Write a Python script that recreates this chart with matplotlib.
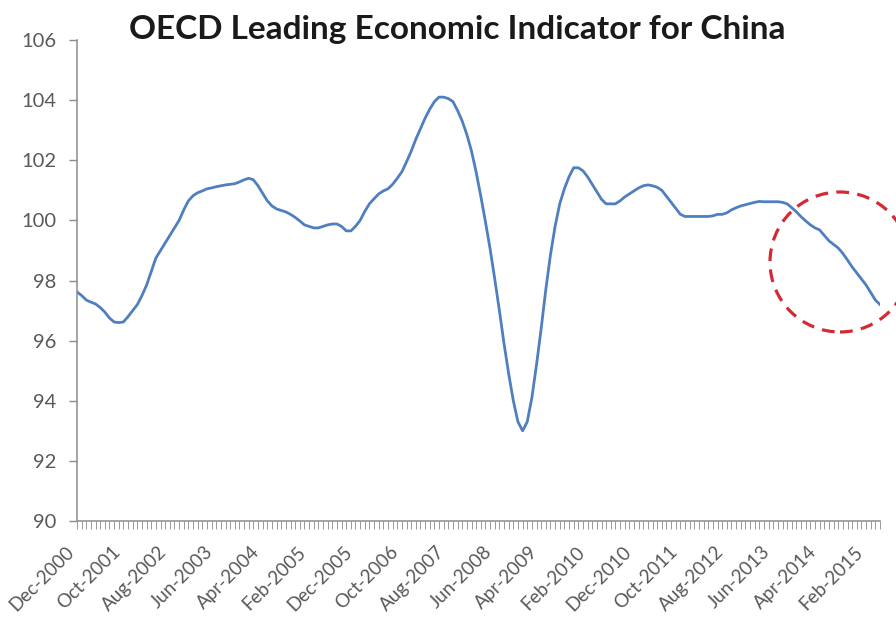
import matplotlib
matplotlib.use("Agg")
import matplotlib.pyplot as plt
from matplotlib.patches import Ellipse
import pandas as pd

# ---- data ----
months = pd.date_range("2000-12-01", periods=174, freq="MS").strftime("%b-%Y").tolist()

cli_values = [
    97.62, 97.50, 97.35, 97.28, 97.22, 97.10, 96.95, 96.75, 96.62, 96.60,
    96.62, 96.80, 97.00, 97.20, 97.50, 97.85, 98.30, 98.75, 99.00, 99.25,
    99.50, 99.75, 100.00, 100.35, 100.65, 100.82, 100.92, 100.98, 101.05, 101.08,
    101.12, 101.15, 101.18, 101.20, 101.22, 101.28, 101.35, 101.40, 101.35, 101.15,
    100.90, 100.65, 100.48, 100.38, 100.33, 100.28, 100.20, 100.10, 99.98, 99.85,
    99.80, 99.75, 99.75, 99.80, 99.85, 99.88, 99.88, 99.80, 99.65, 99.65,
    99.80, 100.00, 100.30, 100.55, 100.72, 100.88, 100.98, 101.05, 101.20, 101.40,
    101.62, 101.95, 102.30, 102.70, 103.05, 103.40, 103.70, 103.95, 104.10, 104.10,
    104.05, 103.95, 103.65, 103.30, 102.85, 102.30, 101.60, 100.80, 99.95, 99.05,
    98.05, 97.00, 95.90, 94.90, 94.00, 93.30, 93.00, 93.30, 94.10, 95.20,
    96.40, 97.70, 98.85, 99.80, 100.55, 101.05, 101.45, 101.75, 101.75, 101.65,
    101.45, 101.20, 100.95, 100.70, 100.55, 100.55, 100.55, 100.65, 100.78, 100.88,
    100.98, 101.08, 101.15, 101.18, 101.15, 101.10, 101.00, 100.80, 100.60, 100.40,
    100.20, 100.13, 100.13, 100.13, 100.13, 100.13, 100.13, 100.15, 100.20, 100.20,
    100.25, 100.35, 100.42, 100.48, 100.52, 100.56, 100.60, 100.63, 100.62, 100.62,
    100.62, 100.62, 100.60, 100.55, 100.42, 100.28, 100.12, 99.98, 99.85, 99.75,
    99.68, 99.50, 99.32, 99.20, 99.08, 98.90, 98.68, 98.45, 98.25, 98.05,
    97.85, 97.60, 97.35, 97.20,
]

tick_labels = ["Dec-2000", "Oct-2001", "Aug-2002", "Jun-2003", "Apr-2004", "Feb-2005",
               "Dec-2005", "Oct-2006", "Aug-2007", "Jun-2008", "Apr-2009", "Feb-2010",
               "Dec-2010", "Oct-2011", "Aug-2012", "Jun-2013", "Apr-2014", "Feb-2015"]
y_ticks = [90, 92, 94, 96, 98, 100, 102, 104, 106]
title = "OECD Leading Economic Indicator for China"

# ---- plot ----
plt.rcParams["font.family"] = ["Lato", "DejaVu Sans"]
fig = plt.figure(figsize=(8.96, 6.19), dpi=100)
ax = fig.add_axes([77/896, 1 - 521/619, (880 - 77)/896, (521 - 40)/619])

x = list(range(len(cli_values)))
ax.plot(x, cli_values, color="#4f7fbf", lw=2.0, solid_joinstyle="round")

ax.set_xlim(0, len(months) - 1)
ax.set_ylim(y_ticks[0], y_ticks[-1])
ax.set_yticks(y_ticks)
ax.set_yticklabels([str(v) for v in y_ticks])

ax.set_xticks(range(len(months)))
lab_pos = {months.index(t): t for t in tick_labels}
ax.set_xticklabels([lab_pos.get(i, "") for i in range(len(months))],
                   rotation=45, ha="right", va="top", rotation_mode="default")

for s in ["top", "right"]:
    ax.spines[s].set_visible(False)
for s in ["left", "bottom"]:
    ax.spines[s].set_color("#8c8c8c")
    ax.spines[s].set_linewidth(1.1)

ax.tick_params(axis="y", direction="out", length=6, width=1, color="#8c8c8c",
               labelsize=14.5, labelcolor="#595959", pad=9)
ax.tick_params(axis="x", direction="out", length=6, width=0.7, color="#9a9a9a",
               labelsize=13.5, labelcolor="#595959", pad=10)

fig.text(457/896, 1 - 29/619, title, ha="center", va="center",
         fontsize=24, fontweight="bold", color="#1a1a1a")

circ = Ellipse((840/896, 1 - 262/619), width=140/896, height=140/619,
               transform=fig.transFigure, fill=False, edgecolor="#d42a33",
               lw=2.3, linestyle=(0, (4, 2.6)), clip_on=False)
fig.patches.append(circ)

fig.savefig("out.png", dpi=100)
